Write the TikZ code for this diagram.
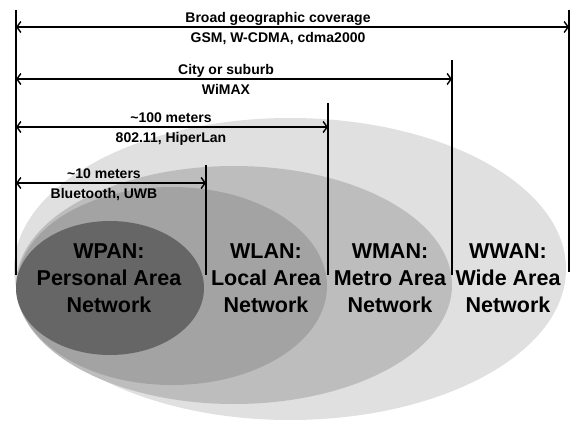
\documentclass[tikz,border=0pt]{standalone}
\usepackage{fontspec}
\setmainfont{Liberation Sans}
\usetikzlibrary{arrows.meta}
\begin{document}
\begin{tikzpicture}[x=1pt,y=-1pt,
  dim/.style={line width=1.4pt,{Straight Barb[length=4pt,width=11pt]}-{Straight Barb[length=4pt,width=11pt]}},
  vline/.style={line width=1.4pt},
  small/.style={font=\bfseries\fontsize{14}{16}\selectfont,inner sep=0pt,anchor=base},
  big/.style={font=\bfseries\fontsize{21.5}{27}\selectfont,align=center,inner sep=0pt}]
\useasboundingbox (0,0) rectangle (571,423);
% ellipses
\fill[fill=black!12] (290,269) ellipse [x radius=276, y radius=151];
\fill[fill=black!26] (234,285) ellipse [x radius=218, y radius=119];
\fill[fill=black!36] (172,286) ellipse [x radius=155, y radius=99];
\fill[fill=black!60] (110,288) ellipse [x radius=94, y radius=67];
% vertical lines
\coordinate (L0t) at (16,10); \coordinate (L0b) at (16,275);
\coordinate (L1t) at (206,165); \coordinate (L1b) at (206,275);
\coordinate (L2t) at (328,103); \coordinate (L2b) at (328,275);
\coordinate (L3t) at (452,60); \coordinate (L3b) at (452,275);
\coordinate (L4t) at (569,10); \coordinate (L4b) at (569,272);
\draw[vline] (L0t) -- (L0b);
\draw[vline] (L1t) -- (L1b);
\draw[vline] (L2t) -- (L2b);
\draw[vline] (L3t) -- (L3b);
\draw[vline] (L4t) -- (L4b);
% dimension arrows
\coordinate (a4l) at (16,27); \coordinate (a4r) at (569,27);
\coordinate (a3l) at (16,79); \coordinate (a3r) at (452,79);
\coordinate (a2l) at (16,127); \coordinate (a2r) at (328,127);
\coordinate (a1l) at (16,183); \coordinate (a1r) at (206,183);
\draw[dim] (a4l) -- (a4r);
\draw[dim] (a3l) -- (a3r);
\draw[dim] (a2l) -- (a2r);
\draw[dim] (a1l) -- (a1r);
% small labels
\node[small] (t4a) at (278,22) {Broad geographic coverage};
\node[small] (t4b) at (278,42) {GSM, W-CDMA, cdma2000};
\node[small] (t3a) at (226,74) {City or suburb};
\node[small] (t3b) at (226,94) {WiMAX};
\node[small] (t2a) at (171,122) {\textasciitilde100 meters};
\node[small] (t2b) at (171,142) {802.11, HiperLan};
\node[small] (t1a) at (104,178) {\textasciitilde10 meters};
\node[small] (t1b) at (104,198) {Bluetooth, UWB};
% big labels
\node[big] (wpan) at (109,278) {WPAN:\\Personal Area\\Network};
\node[big] (wlan) at (266,278) {WLAN:\\Local Area\\Network};
\node[big] (wman) at (390,278) {WMAN:\\Metro Area\\Network};
\node[big] (wwan) at (508,278) {WWAN:\\Wide Area\\Network};
\end{tikzpicture}
\end{document}
